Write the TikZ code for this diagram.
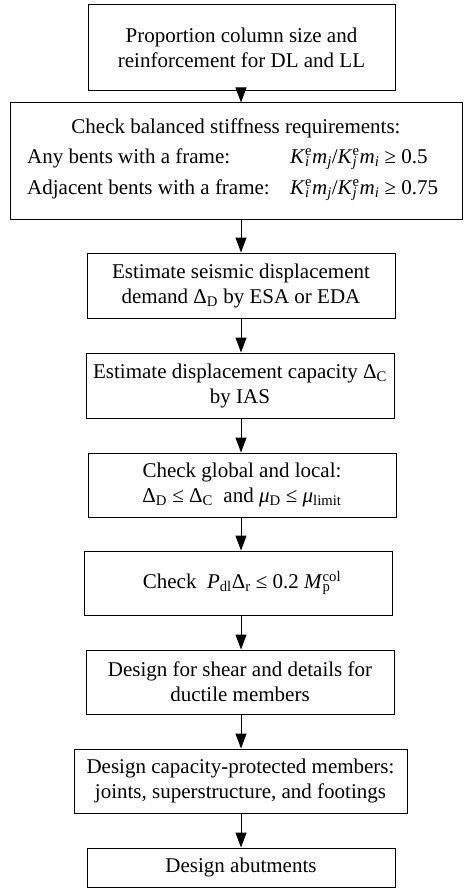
\documentclass[tikz,border=0pt]{standalone}
\usepackage{fontspec}
\setmainfont{Liberation Serif}
\usetikzlibrary{arrows.meta}
\newcommand\lo[1]{\textsubscript{#1}}
\newcommand\hilo[2]{\rlap{\textsubscript{#2}}\textsuperscript{#1}}
\begin{document}
\begin{tikzpicture}[x=1pt,y=-1pt,
  box/.style={draw,line width=1pt,inner sep=0pt,align=center,font=\fontsize{21}{25}\selectfont},
  txt/.style={inner sep=0pt,font=\fontsize{21}{25}\selectfont},
  arr/.style={line width=1pt,-{Triangle[length=15pt,width=11pt]}}]
\useasboundingbox (0,0) rectangle (463,888);
\coordinate (ax) at (241,0);
\node[box,minimum width=307pt,minimum height=86pt] (b1) at (241.5,48)
  {Proportion column size and\\reinforcement for DL and LL};
\node[box,minimum width=452pt,minimum height=116pt] (b2) at (236,161) {};
\node[txt,anchor=base] (t2a) at (236,133) {Check balanced stiffness requirements:};
\node[txt,anchor=base west] (t2b) at (27,163) {Any bents with a frame:};
\node[txt,anchor=base west] (t2c) at (27,194) {Adjacent bents with a frame:};
\node[txt,anchor=base west] (t2d) at (290,163) {\textit{K}\hilo{e}{\textit{i}}\textit{m}\lo{\textit{j}}/\textit{K}\hilo{e}{\textit{j}}\textit{m}\lo{\textit{i}} ≥ 0.5};
\node[txt,anchor=base west] (t2e) at (290,194) {\textit{K}\hilo{e}{\textit{i}}\textit{m}\lo{\textit{j}}/\textit{K}\hilo{e}{\textit{j}}\textit{m}\lo{\textit{i}} ≥ 0.75};
\node[box,minimum width=308pt,minimum height=65pt] (b3) at (241,285.5)
  {Estimate seismic displacement\\demand Δ\lo{D} by ESA or EDA};
\node[box,minimum width=308pt,minimum height=65pt] (b4) at (240,385.5)
  {Estimate displacement capacity Δ\lo{C}\\by IAS};
\node[box,minimum width=308pt,minimum height=64pt] (b5) at (242,485)
  {Check global and local:\\Δ\lo{D} ≤ Δ\lo{C}\ \ and \textit{μ}\lo{D} ≤ \textit{μ}\lo{limit}};
\node[box,minimum width=308pt,minimum height=64pt] (b6) at (238,583)
  {\hspace*{8pt}Check\ \ \textit{P}\lo{dl}Δ\lo{r} ≤ 0.2 \textit{M}\hilo{col}{p}};
\node[box,minimum width=308pt,minimum height=64pt] (b7) at (240,682)
  {Design for shear and details for\\ductile members};
\node[box,minimum width=333pt,minimum height=64pt] (b8) at (240.5,781)
  {Design capacity-protected members:\\joints, superstructure, and footings};
\node[box,minimum width=308pt,minimum height=39pt] (b9) at (241,867.5)
  {Design abutments};
\draw[arr] (b1.south -| ax) -- (b2.north -| ax);
\draw[arr] (b2.south -| ax) -- (b3.north -| ax);
\draw[arr] (b3.south -| ax) -- (b4.north -| ax);
\draw[arr] (b4.south -| ax) -- (b5.north -| ax);
\draw[arr] (b5.south -| ax) -- (b6.north -| ax);
\draw[arr] (b6.south -| ax) -- (b7.north -| ax);
\draw[arr] (b7.south -| ax) -- (b8.north -| ax);
\draw[arr] (b8.south -| ax) -- (b9.north -| ax);
\end{tikzpicture}
\end{document}
